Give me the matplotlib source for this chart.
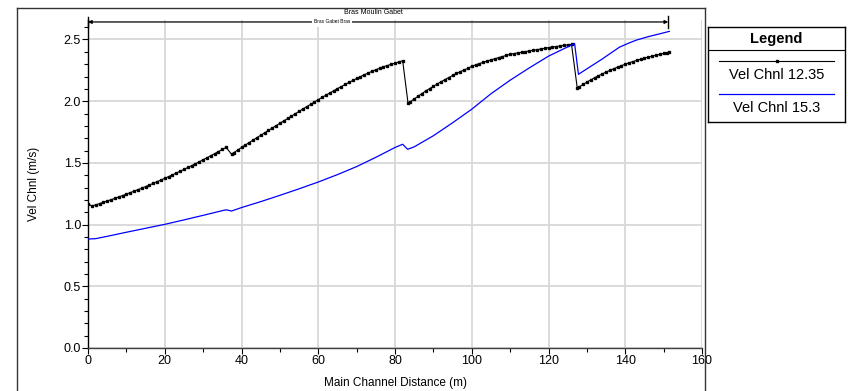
import matplotlib.pyplot as plt
from matplotlib.lines import Line2D

plt.rcParams['font.family'] = ['Liberation Sans', 'DejaVu Sans']

# Vel Chnl 12.35 (black, markers)
dist_1235 = [0, 1, 2, 3, 4, 5, 6, 7, 8, 9, 10, 11, 12, 13, 14, 15, 16, 17, 18, 19, 20,
             21, 22, 23, 24, 25, 26, 27, 28, 29, 30, 31, 32, 33, 34, 35, 36,
             37.4, 38, 39, 40, 41, 42, 43, 44, 45, 46, 47, 48, 49, 50, 51, 52, 53, 54,
             55, 56, 57, 58, 59, 60, 61, 62, 63, 64, 65, 66, 67, 68, 69, 70, 71, 72,
             73, 74, 75, 76, 77, 78, 79, 80, 81, 82,
             83.4, 84, 85, 86, 87, 88, 89, 90, 91, 92, 93, 94, 95, 96, 97, 98, 99, 100,
             101, 102, 103, 104, 105, 106, 107, 108, 109, 110, 111, 112, 113, 114, 115,
             116, 117, 118, 119, 120, 121, 122, 123, 124, 125, 126,
             127.5, 128, 129, 130, 131, 132, 133, 134, 135, 136, 137, 138, 139, 140,
             141, 142, 143, 144, 145, 146, 147, 148, 149, 150, 151, 151.5]
vel_1235 = [1.167, 1.152, 1.160, 1.170, 1.180, 1.191, 1.202, 1.212, 1.224, 1.235, 1.247,
            1.259, 1.271, 1.283, 1.295, 1.308, 1.321, 1.334, 1.348, 1.361, 1.375,
            1.389, 1.403, 1.418, 1.432, 1.447, 1.463, 1.478, 1.493, 1.509, 1.525,
            1.542, 1.558, 1.575, 1.592, 1.609, 1.626,
            1.570, 1.583, 1.604, 1.625, 1.645, 1.665, 1.685, 1.704, 1.724, 1.743,
            1.763, 1.782, 1.802, 1.821, 1.840, 1.860, 1.879, 1.898, 1.918, 1.937,
            1.956, 1.975, 1.994, 2.013, 2.031, 2.049, 2.067, 2.085, 2.102, 2.119,
            2.136, 2.152, 2.168, 2.184, 2.199, 2.214, 2.228, 2.242, 2.255, 2.267,
            2.279, 2.289, 2.299, 2.308, 2.318, 2.328,
            1.983, 1.996, 2.018, 2.040, 2.062, 2.083, 2.102, 2.121, 2.140, 2.158,
            2.175, 2.192, 2.209, 2.225, 2.239, 2.253, 2.266, 2.283, 2.294, 2.305,
            2.315, 2.325, 2.335, 2.344, 2.353, 2.362, 2.371, 2.380, 2.386, 2.391,
            2.397, 2.402, 2.407, 2.413, 2.418, 2.423, 2.429, 2.434, 2.439, 2.443,
            2.448, 2.452, 2.456, 2.460,
            2.105, 2.116, 2.136, 2.155, 2.173, 2.190, 2.206, 2.221, 2.236, 2.250,
            2.263, 2.276, 2.288, 2.300, 2.311, 2.321, 2.331, 2.340, 2.349, 2.357,
            2.365, 2.373, 2.380, 2.387, 2.394, 2.398]

# Vel Chnl 15.3 (blue line)
dist_153 = [0, 2, 5, 10, 15, 20, 25, 30, 35, 36, 37.4, 40, 45, 50, 55, 60, 65, 70, 75,
            80, 82, 83.3, 85, 90, 95, 100, 105, 110, 115, 120, 125, 126.8, 127.8, 130,
            132, 134, 136, 138.5, 141, 143, 146, 149, 151.5]
vel_153 = [0.883, 0.886, 0.905, 0.938, 0.970, 1.002, 1.038, 1.075, 1.113, 1.120, 1.110,
           1.138, 1.186, 1.237, 1.290, 1.345, 1.405, 1.470, 1.545, 1.625, 1.651, 1.610,
           1.630, 1.720, 1.825, 1.935, 2.060, 2.170, 2.270, 2.365, 2.440, 2.468, 2.218,
           2.262, 2.302, 2.342, 2.385, 2.438, 2.472, 2.496, 2.523, 2.546, 2.566]

reach_start, reach_end = 0, 151.2

fig = plt.figure(figsize=(8.48, 3.91), dpi=100)
ax = fig.add_axes([88 / 848, 1 - 348 / 391, 614 / 848, 328 / 391])

ax.plot(dist_1235, vel_1235, color='black', lw=0.8, marker='s', ms=1.5, zorder=3)
ax.plot(dist_153, vel_153, color='#0000ff', lw=0.9, zorder=3)

ax.set_xlim(0, 160)
ax.set_ylim(0, 2.658)
ax.set_xticks(range(0, 161, 20))
ax.set_xticks(range(10, 161, 20), minor=True)
ax.set_yticks([0, 0.5, 1.0, 1.5, 2.0, 2.5])
ax.set_yticks([i / 10 for i in range(0, 27)], minor=True)
ax.set_yticklabels(['0.0', '0.5', '1.0', '1.5', '2.0', '2.5'])
ax.tick_params(labelsize=9, length=4, width=0.8, pad=1)
ax.tick_params(which='minor', length=3, width=0.8)
ax.grid(True, color='#d8d8d8', lw=1.3)
ax.set_axisbelow(True)
for s in ['top', 'right']:
    ax.spines[s].set_visible(False)
ax.spines['left'].set_linewidth(1.0)
ax.spines['bottom'].set_linewidth(1.0)
ax.spines['bottom'].set_color('#404040')
ax.set_xlabel('Main Channel Distance (m)', fontsize=8.5, labelpad=7)
ax.set_ylabel('Vel Chnl (m/s)', fontsize=8.5, labelpad=17)

# reach annotation along top
ya = 2.642
ax.annotate('', xy=(reach_start, ya), xytext=(reach_end, ya),
            arrowprops=dict(arrowstyle='<|-|>', color='black', lw=0.9,
                            mutation_scale=5, shrinkA=0, shrinkB=0), annotation_clip=False)
ax.plot([reach_start, reach_start], [ya - 0.04, ya + 0.04], color='black', lw=1, clip_on=False)
ax.plot([reach_end, reach_end], [ya - 0.05, ya + 0.05], color='black', lw=1, clip_on=False)
ax.text(63.6, ya, 'Bras Gabet Bras', fontsize=3.5, ha='center', va='center',
        bbox=dict(facecolor='white', edgecolor='none', pad=1.5))
ax.text(74.3, 2.715, 'Bras Moulin Gabet', fontsize=5, ha='center', va='center',
        clip_on=False)

# frame round plot region
fig.add_artist(Line2D([16.5 / 848, 16.5 / 848], [0, 1 - 7.5 / 391], color='#333333', lw=1))
fig.add_artist(Line2D([16.5 / 848, 704.5 / 848], [1 - 7.5 / 391, 1 - 7.5 / 391], color='#333333', lw=1))
fig.add_artist(Line2D([704.5 / 848, 704.5 / 848], [0, 1 - 7.5 / 391], color='#333333', lw=1))

# legend box
lax = fig.add_axes([708 / 848, 1 - 122 / 391, 137 / 848, 95 / 391])
lax.set_xlim(0, 1)
lax.set_ylim(0, 1)
lax.set_xticks([])
lax.set_yticks([])
for s in lax.spines.values():
    s.set_linewidth(1.0)
lax.text(0.5, 0.87, 'Legend', fontsize=10.5, fontweight='bold', ha='center', va='center')
lax.axhline(0.755, color='black', lw=0.8)
lax.plot([0.08, 0.92], [0.64, 0.64], color='black', lw=0.8)
lax.plot([0.5], [0.64], color='black', marker='s', ms=1.5)
lax.text(0.5, 0.49, 'Vel Chnl 12.35', fontsize=10.5, ha='center', va='center')
lax.plot([0.08, 0.92], [0.29, 0.29], color='#0000ff', lw=0.9)
lax.text(0.5, 0.15, 'Vel Chnl 15.3', fontsize=10.5, ha='center', va='center')

fig.savefig('out.png', dpi=100)
